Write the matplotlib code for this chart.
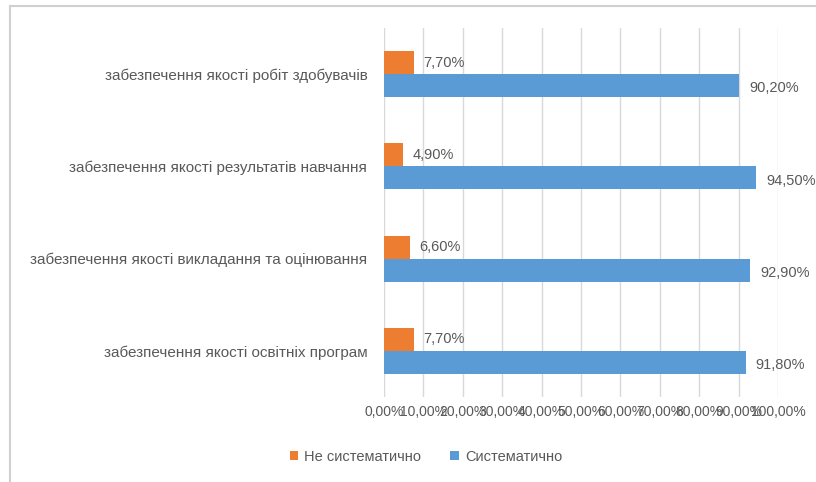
import numpy as np
import matplotlib.pyplot as plt
from matplotlib.lines import Line2D

categories = ['забезпечення якості освітніх програм',
              'забезпечення якості викладання та оцінювання',
              'забезпечення якості результатів навчання',
              'забезпечення якості робіт здобувачів']
not_systematic = [7.7, 6.6, 4.9, 7.7]
systematic = [91.8, 92.9, 94.5, 90.2]
series_names = ['Не систематично', 'Систематично']
x_ticks = [0, 10, 20, 30, 40, 50, 60, 70, 80, 90, 100]

orange = '#ED7D31'
blue = '#5B9BD5'
text_col = '#595959'

plt.rcParams['font.family'] = ['Liberation Sans', 'DejaVu Sans']

def pct(v):
    return ('%.2f%%' % v).replace('.', ',')

fig = plt.figure(figsize=(8.16, 4.82), dpi=100)
ax = fig.add_axes([384/816, 1 - 397/482, (778 - 384)/816, (397 - 28)/482])

y = np.arange(len(categories))
h = 0.25
b1 = ax.barh(y + h/2, not_systematic, height=h, color=orange, label=series_names[0], zorder=3)
b2 = ax.barh(y - h/2, systematic, height=h, color=blue, label=series_names[1], zorder=3)

for bar, v in zip(b1, not_systematic):
    ax.text(bar.get_width() + 2.3, bar.get_y() + bar.get_height()/2, pct(v),
            va='center', ha='left', fontsize=10.5, color=text_col)
for bar, v in zip(b2, systematic):
    ax.text(bar.get_width() + 2.5, bar.get_y() + bar.get_height()/2 - 0.03, pct(v),
            va='center', ha='left', fontsize=10.5, color=text_col, clip_on=False)

ax.set_xlim(0, 100)
ax.set_ylim(-0.5, len(categories) - 0.5)
ax.set_xticks(x_ticks)
ax.set_xticklabels([pct(t) for t in x_ticks], fontsize=10, color=text_col)
ax.set_yticks(y)
ax.set_yticklabels(categories, fontsize=11, color=text_col)
ax.tick_params(length=0)
ax.tick_params(axis='x', pad=6)
ax.tick_params(axis='y', pad=12)
ax.grid(axis='x', color='#D9D9D9', linewidth=1, zorder=0)
for s in ax.spines.values():
    s.set_visible(False)

handles, labels = ax.get_legend_handles_labels()
fig.legend(handles, labels, loc='center', bbox_to_anchor=(426/816, 1 - 457/482),
           ncol=2, frameon=False, fontsize=10.5, handlelength=0.6, handleheight=0.6,
           columnspacing=2.0, handletextpad=0.4, labelcolor=text_col)

# chart border (top and left edges)
fig.add_artist(Line2D([10/816, 1], [1 - 6/482, 1 - 6/482], color='#D0D0D0', lw=1.5))
fig.add_artist(Line2D([10/816, 10/816], [0, 1 - 6/482], color='#D0D0D0', lw=1.5))

fig.savefig('out.png', dpi=100)
